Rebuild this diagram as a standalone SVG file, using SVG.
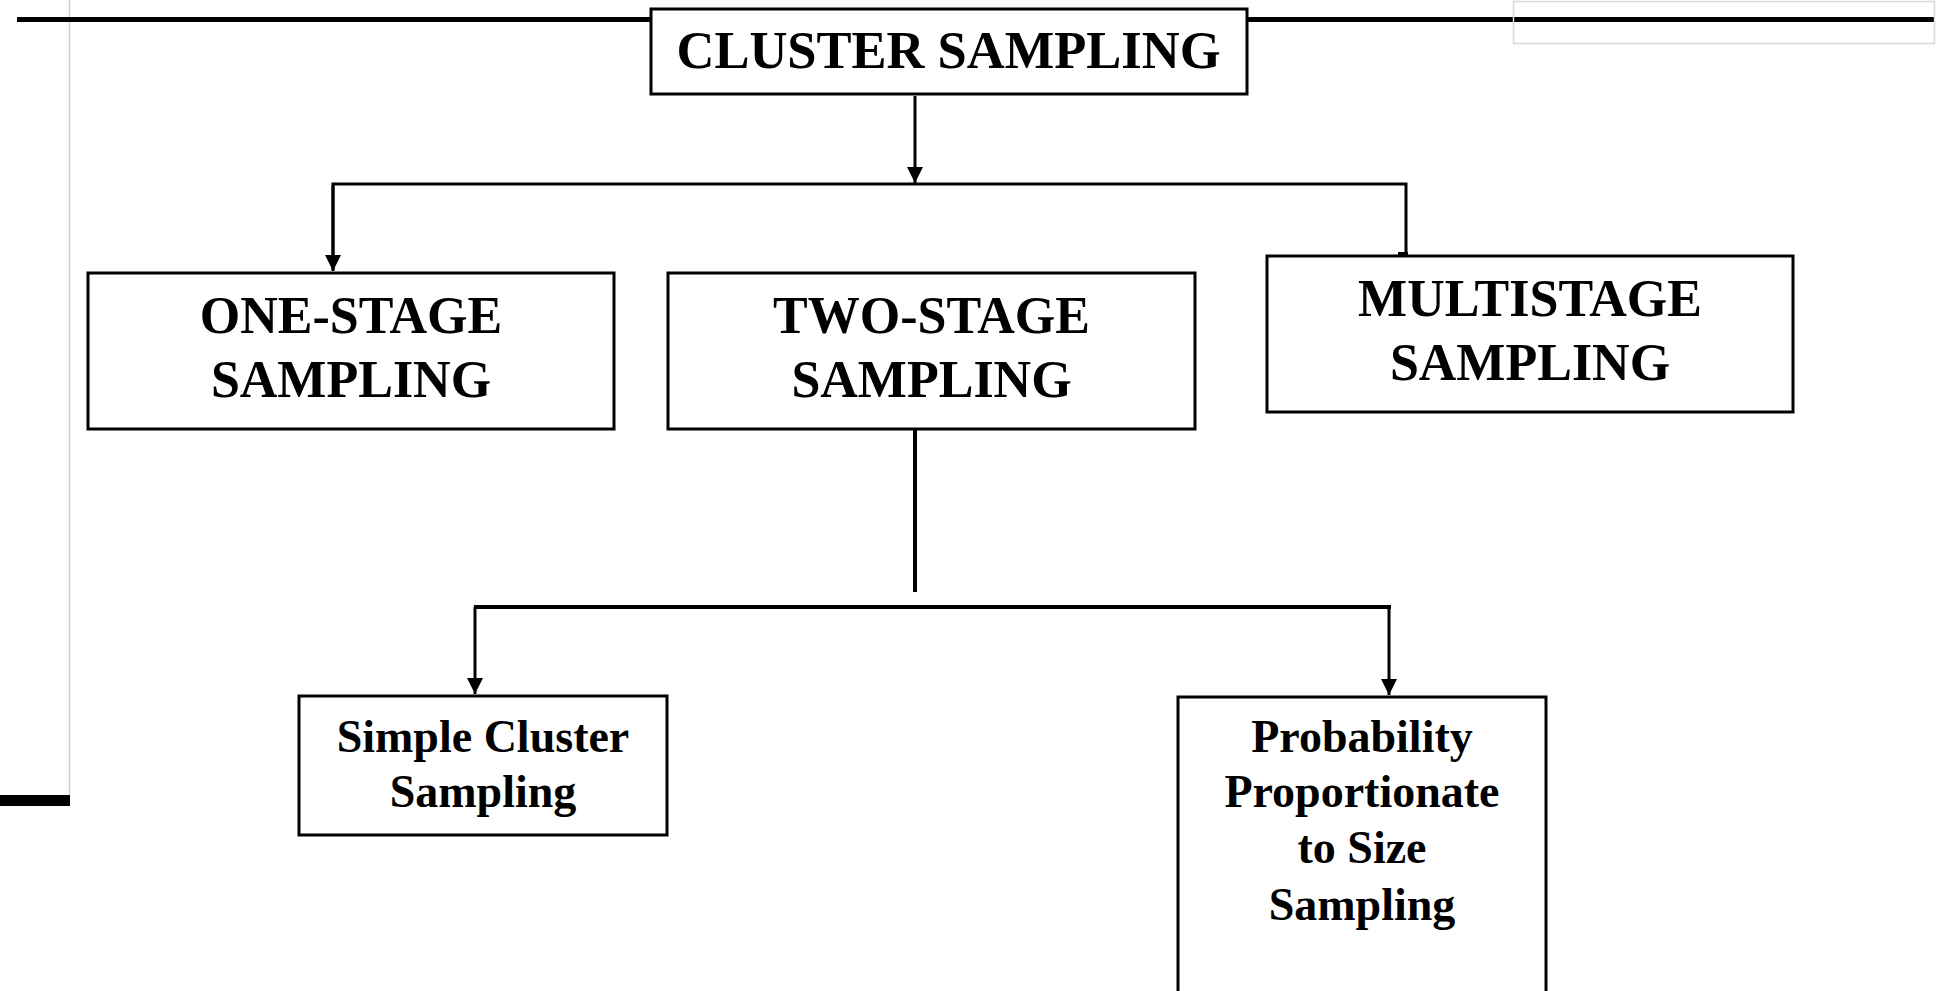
<svg xmlns="http://www.w3.org/2000/svg" width="1944" height="991" viewBox="0 0 1944 991">
<defs>
<style>
.box{fill:#fff;stroke:#000;stroke-width:3}
.h{font-family:"Liberation Serif","Times New Roman",serif;font-weight:bold;font-size:52px;text-anchor:middle;fill:#000}
.s{font-family:"Liberation Serif","Times New Roman",serif;font-weight:bold;font-size:46px;text-anchor:middle;fill:#000}
.c{stroke:#000;stroke-width:3;fill:none}
.c4{stroke:#000;stroke-width:4;fill:none}
</style>
<marker id="arr" markerUnits="userSpaceOnUse" markerWidth="18" markerHeight="16" refX="16" refY="8" orient="auto">
<path d="M0,0 L16,8 L0,16 Z" fill="#000"/>
</marker>
</defs>
<rect width="1944" height="991" fill="#fff"/>
<g id="decor">
<line x1="69.5" y1="0" x2="69.5" y2="796" stroke="#cfcfcf" stroke-width="1.5"/>
<rect x="0" y="795" width="70" height="11" fill="#000"/>
<rect x="17" y="17" width="634" height="5" fill="#000"/>
<rect x="1247" y="17" width="688" height="5" fill="#000"/>
<rect x="1513.5" y="1.5" width="421" height="42" fill="none" stroke="#dadada" stroke-width="1.5"/>
</g>
<g id="connectors">
<line class="c" x1="915" y1="96" x2="915" y2="183" marker-end="url(#arr)"/>
<polyline class="c" points="333,270 333,184 1406,184 1406,255"/>
<line class="c" x1="333" y1="186" x2="333" y2="271" marker-end="url(#arr)"/>
<rect x="1398" y="252" width="10" height="4" fill="#000"/>
<line class="c4" x1="915" y1="430" x2="915" y2="592"/>
<line class="c4" x1="474" y1="607" x2="1391" y2="607"/>
<line class="c" x1="475" y1="607" x2="475" y2="694" marker-end="url(#arr)"/>
<line class="c" x1="1389" y1="607" x2="1389" y2="695" marker-end="url(#arr)"/>
</g>
<g id="cluster">
<rect class="box" x="651" y="9" width="596" height="85"/>
<text class="h" x="948.5" y="68" style="font-size:52.5px">CLUSTER SAMPLING</text>
</g>
<g id="one-stage">
<rect class="box" x="88" y="273" width="526" height="156"/>
<text class="h" x="351" y="333">ONE-STAGE</text>
<text class="h" x="351" y="397">SAMPLING</text>
</g>
<g id="two-stage">
<rect class="box" x="668" y="273" width="527" height="156"/>
<text class="h" x="931.5" y="333">TWO-STAGE</text>
<text class="h" x="931.5" y="397">SAMPLING</text>
</g>
<g id="multistage">
<rect class="box" x="1267" y="256" width="526" height="156"/>
<text class="h" x="1530" y="316">MULTISTAGE</text>
<text class="h" x="1530" y="380">SAMPLING</text>
</g>
<g id="simple-cluster">
<rect class="box" x="299" y="696" width="368" height="139"/>
<text class="s" x="483" y="752">Simple Cluster</text>
<text class="s" x="483" y="807">Sampling</text>
</g>
<g id="pps">
<rect class="box" x="1178" y="697" width="368" height="310"/>
<text class="s" x="1362" y="752">Probability</text>
<text class="s" x="1362" y="807">Proportionate</text>
<text class="s" x="1362" y="863">to Size</text>
<text class="s" x="1362" y="920">Sampling</text>
</g>
</svg>
